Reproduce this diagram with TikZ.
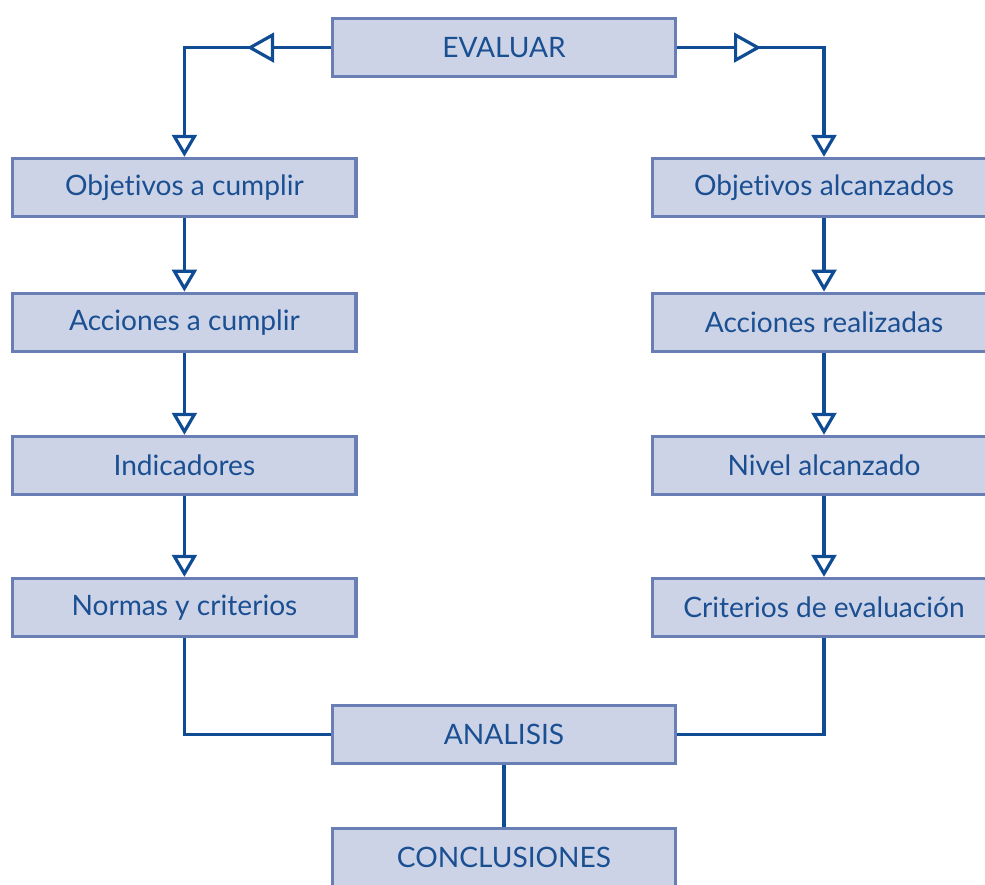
\documentclass[tikz,border=0pt]{standalone}
\usepackage{fontspec}
\setmainfont{Lato}[Ligatures={NoCommon,NoRequired,NoContextual}]
\usepackage{tikz}
\usetikzlibrary{arrows.meta,decorations.markings}

\definecolor{cajafondo}{HTML}{CDD3E7}
\definecolor{cajaborde}{HTML}{6A7EB6}
\definecolor{linea}{HTML}{0F4C94}
\definecolor{texto}{HTML}{1A4F92}

\begin{document}
\begin{tikzpicture}[>={Triangle[open,length=0.55cm,width=0.62cm]},
	caja/.style={rectangle, draw=cajaborde, fill=cajafondo, line width=0.08cm,
		minimum width=8.58cm, minimum height=1.46cm, inner sep=0pt,
		text=texto, font=\fontsize{20}{24}\selectfont},
	flecha/.style={->, draw=linea, line width=0.08cm},
	linea/.style={draw=linea, line width=0.08cm},
	medio/.style={postaction={decorate}, decoration={markings,
		mark=at position 2.1cm with {\arrow[line width=0.08cm]{Triangle[length=0.68cm,width=0.74cm,fill=white]}}}}]
	\useasboundingbox (0,0) rectangle (24.625,-22.1);

	%boxes
	\node[caja] (evaluar) at (12.6,-1.19) {EVALUAR};
	%
	\node[caja] (objcum) at (4.61,-4.69)  {Objetivos a cumplir};
	\node[caja] (acccum) at (4.61,-8.06)  {Acciones a cumplir};
	\node[caja] (indic)  at (4.61,-11.64) {Indicadores};
	\node[caja] (normas) at (4.61,-15.19) {Normas y criterios};
	%
	\node[caja] (objalc) at (20.6,-4.69)  {Objetivos alcanzados};
	\node[caja] (accrea) at (20.6,-8.06)  {Acciones realizadas};
	\node[caja] (nivel)  at (20.6,-11.64) {Nivel alcanzado};
	\node[caja] (crit)   at (20.6,-15.19) {Criterios de evaluación};
	%
	\node[caja] (analisis) at (12.6,-18.36) {ANALISIS};
	\node[caja] (concl)    at (12.6,-21.44) {CONCLUSIONES};

	%top branches
	\draw[flecha,medio] (evaluar.west) -| (objcum.north);
	\draw[flecha,medio] (evaluar.east) -| (objalc.north);

	%left column
	\draw[flecha] (objcum) -- (acccum);
	\draw[flecha] (acccum) -- (indic);
	\draw[flecha] (indic)  -- (normas);

	%right column
	\draw[flecha] (objalc) -- (accrea);
	\draw[flecha] (accrea) -- (nivel);
	\draw[flecha] (nivel)  -- (crit);

	%into analisis
	\draw[linea] (normas.south) |- (analisis.west);
	\draw[linea] (crit.south)   |- (analisis.east);
	\draw[linea] (analisis) -- (concl);
\end{tikzpicture}
\end{document}
